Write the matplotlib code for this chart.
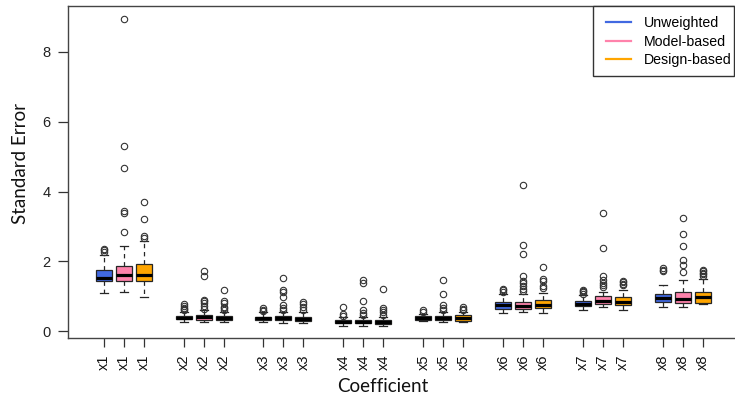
import matplotlib
matplotlib.use("Agg")
import matplotlib.pyplot as plt
from matplotlib.patches import Rectangle

coefficients = ["x1", "x2", "x3", "x4", "x5", "x6", "x7", "x8"]
methods = ["Unweighted", "Model-based", "Design-based"]
colors = ["#4169E1", "#FF82AB", "#FFA500"]

# Unweighted
unw_lo = [1.11, 0.27, 0.26, 0.16, 0.29, 0.52, 0.62, 0.70]
unw_q1 = [1.43, 0.34, 0.33, 0.23, 0.33, 0.65, 0.72, 0.84]
unw_med = [1.54, 0.39, 0.37, 0.28, 0.37, 0.74, 0.78, 0.95]
unw_q3 = [1.76, 0.44, 0.42, 0.33, 0.43, 0.84, 0.87, 1.06]
unw_hi = [2.19, 0.56, 0.55, 0.41, 0.50, 1.06, 1.04, 1.32]
unw_fl = [[2.28, 2.33, 2.37], [0.60, 0.64, 0.68, 0.72, 0.77], [0.58, 0.62, 0.66],
          [0.45, 0.49, 0.70], [0.55, 0.60], [1.13, 1.17, 1.20],
          [1.08, 1.12, 1.16, 1.19], [1.72, 1.76, 1.80]]

# Model-based
mod_lo = [1.14, 0.27, 0.25, 0.16, 0.27, 0.55, 0.71, 0.70]
mod_q1 = [1.43, 0.33, 0.32, 0.23, 0.33, 0.65, 0.77, 0.82]
mod_med = [1.60, 0.40, 0.37, 0.28, 0.38, 0.72, 0.87, 0.92]
mod_q3 = [1.86, 0.48, 0.43, 0.33, 0.44, 0.84, 1.00, 1.13]
mod_hi = [2.45, 0.60, 0.55, 0.42, 0.55, 1.08, 1.12, 1.48]
mod_fl = [[2.83, 3.39, 3.45, 4.68, 5.30, 8.95],
          [0.64, 0.72, 0.80, 0.87, 0.91, 1.58, 1.73],
          [0.60, 0.66, 0.75, 0.97, 1.12, 1.17, 1.53],
          [0.46, 0.52, 0.60, 0.86, 1.38, 1.48],
          [0.60, 0.67, 0.74, 1.07, 1.47],
          [1.15, 1.22, 1.29, 1.38, 1.43, 1.58, 2.22, 2.46, 4.19],
          [1.28, 1.32, 1.38, 1.46, 1.58, 2.39, 3.39],
          [1.70, 1.89, 2.05, 2.44, 2.80, 3.25]]

# Design-based
des_lo = [0.99, 0.28, 0.25, 0.16, 0.27, 0.52, 0.60, 0.78]
des_q1 = [1.43, 0.33, 0.31, 0.22, 0.31, 0.67, 0.75, 0.82]
des_med = [1.62, 0.39, 0.35, 0.27, 0.37, 0.74, 0.84, 0.98]
des_q3 = [1.93, 0.44, 0.42, 0.33, 0.46, 0.89, 0.97, 1.13]
des_hi = [2.59, 0.56, 0.55, 0.42, 0.56, 1.10, 1.17, 1.51]
des_fl = [[2.68, 2.74, 3.21, 3.70], [0.61, 0.66, 0.71, 0.80, 0.87, 1.19],
          [0.62, 0.70, 0.77, 0.84], [0.47, 0.54, 0.62, 0.68, 1.22],
          [0.60, 0.65, 0.70], [1.23, 1.29, 1.43, 1.50, 1.84],
          [1.33, 1.36, 1.40, 1.43], [1.58, 1.63, 1.68, 1.72, 1.76]]

yticks = [0, 2, 4, 6, 8]

series = [
    (unw_lo, unw_q1, unw_med, unw_q3, unw_hi, unw_fl),
    (mod_lo, mod_q1, mod_med, mod_q3, mod_hi, mod_fl),
    (des_lo, des_q1, des_med, des_q3, des_hi, des_fl),
]

W, H = 735, 398
fig = plt.figure(figsize=(W / 100, H / 100), dpi=100)
ax = fig.add_axes([68 / W, 1 - 338 / H, (738 - 68) / W, (338 - 6) / H])

stats, positions, facecols = [], [], []
for m, (lo, q1, med, q3, hi, fl) in enumerate(series):
    for i in range(len(coefficients)):
        stats.append(dict(whislo=lo[i], q1=q1[i], med=med[i], q3=q3[i],
                          whishi=hi[i], fliers=fl[i], label=coefficients[i]))
        positions.append(4 * i + m + 1)
        facecols.append(colors[m])

edge = "#262626"
bp = ax.bxp(stats, positions=positions, widths=0.8, capwidths=0.4,
            patch_artist=True, showfliers=True,
            boxprops=dict(edgecolor=edge, linewidth=0.9),
            whiskerprops=dict(color=edge, linewidth=0.9, linestyle=(0, (3.5, 3))),
            capprops=dict(color=edge, linewidth=0.9),
            medianprops=dict(color="black", linewidth=2.3, solid_capstyle="butt"),
            flierprops=dict(marker="o", markerfacecolor="none", markeredgecolor="#333333",
                            markersize=4.6, markeredgewidth=0.8, linestyle="none"))
for patch, c in zip(bp["boxes"], facecols):
    patch.set_facecolor(c)

order = sorted(range(len(positions)), key=lambda k: positions[k])
ax.set_xticks([positions[k] for k in order])
ax.set_xticklabels([stats[k]["label"] for k in order], rotation=90,
                   fontfamily="Liberation Sans", fontsize=10.5, color="#111111")
ax.set_yticks(yticks)
ax.set_yticklabels([str(v) for v in yticks], fontfamily="Liberation Sans",
                   fontsize=10.5, color="#222222")
ax.tick_params(axis="x", length=6.5, width=0.9, pad=5.5, color="#333333")
ax.tick_params(axis="y", length=7, width=0.9, pad=5.5, color="#333333")

ax.set_xlim(-0.78, 32.74)
ax.set_ylim(-0.19, 9.31)
for s in ax.spines.values():
    s.set_color("#444444")
    s.set_linewidth(1.0)

# legend frame (drawn separately so the text can sit tight to the right edge)
fig.patches.append(Rectangle((593 / W, 1 - 76 / H), (733.5 - 593) / W, 70 / H,
                             transform=fig.transFigure, facecolor="white",
                             edgecolor="#333333", linewidth=1.0, zorder=5))

handles = [plt.Line2D([], [], color=c, linewidth=1.6) for c in colors]
leg = fig.legend(handles, methods, loc="upper left",
                 bbox_to_anchor=(596 / W, 1 - 6 / H), bbox_transform=fig.transFigure,
                 borderaxespad=0, frameon=False,
                 prop=dict(family="Liberation Sans", size=10.2),
                 handlelength=1.8, handletextpad=0.85, labelspacing=0.33,
                 borderpad=0.7)
leg.set_zorder(6)

fig.text(383 / W, 1 - 386 / H, "Coefficient", ha="center", va="center",
         fontfamily="Lato", fontsize=13.5, color="#111111")
fig.text(21 / W, 1 - 163 / H, "Standard Error", ha="center", va="center",
         rotation=90, fontfamily="Lato", fontsize=13.5, color="#111111")

fig.savefig("out.png", dpi=100)
